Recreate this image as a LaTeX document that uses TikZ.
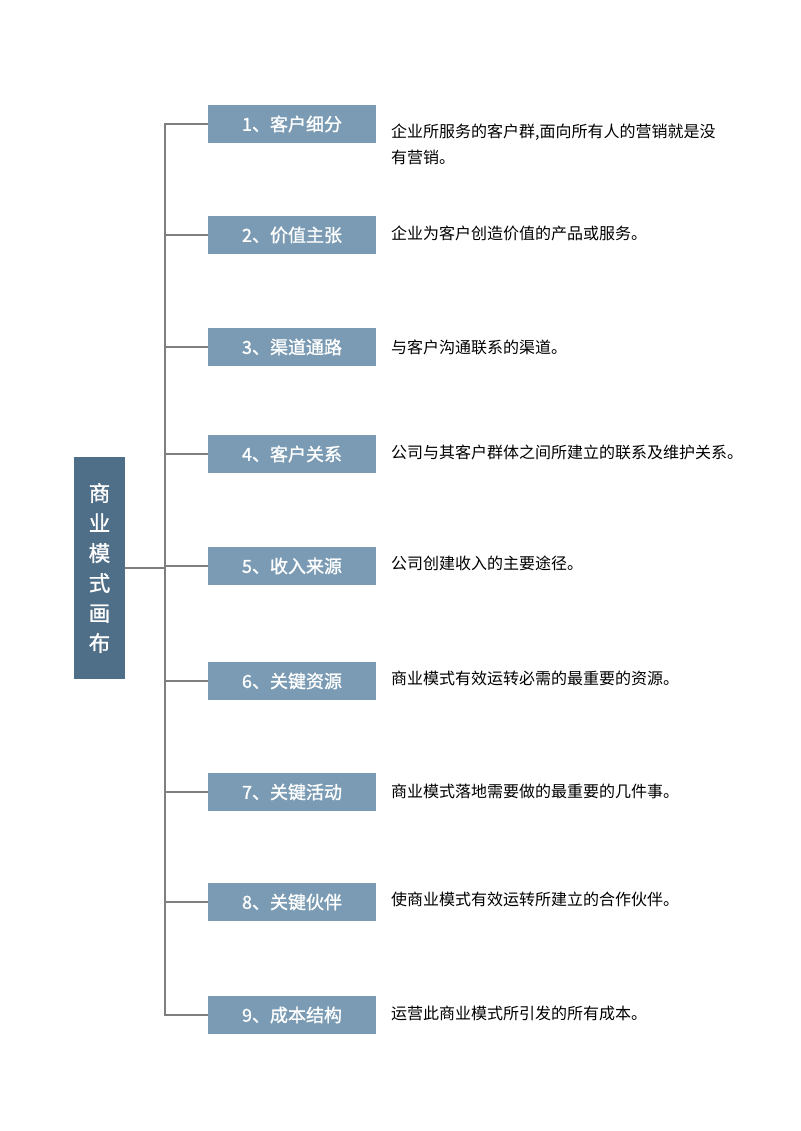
\documentclass[tikz,border=0pt]{standalone}
\usepackage{fontspec}
\setmainfont{Noto Sans CJK SC}
\newfontfamily\medfont{Noto Sans CJK SC}[FakeBold=1.2]
\begin{document}
\begin{tikzpicture}[x=1pt,y=-1pt,
  rootbox/.style={fill=rootc,text=white,minimum width=51pt,minimum height=222pt,inner sep=0pt,align=center,font=\medfont\fontsize{21.5}{30}\selectfont},
  itembox/.style={fill=itemc,text=white,minimum width=168pt,minimum height=38pt,inner sep=0pt,font=\medfont\fontsize{18}{20}\selectfont},
  desc/.style={anchor=west,inner sep=0pt,align=left,text=black,font=\fontsize{16}{26}\selectfont},
  conn/.style={draw=linec,line width=2pt}]
\definecolor{rootc}{HTML}{4F6E87}
\definecolor{itemc}{HTML}{7A9BB3}
\definecolor{linec}{HTML}{7F7F7F}
\useasboundingbox (0,0) rectangle (800,1131);
\fill[white] (0,0) rectangle (800,1131);
\node[rootbox] (root) at (99.5,568) {商\\业\\模\\式\\画\\布};
\coordinate (spine) at (165,568);
\node[itembox] (b1) at (292,124) {1、客户细分};
\node[itembox] (b2) at (292,235) {2、价值主张};
\node[itembox] (b3) at (292,347) {3、渠道通路};
\node[itembox] (b4) at (292,454) {4、客户关系};
\node[itembox] (b5) at (292,566) {5、收入来源};
\node[itembox] (b6) at (292,681) {6、关键资源};
\node[itembox] (b7) at (292,792) {7、关键活动};
\node[itembox] (b8) at (292,902) {8、关键伙伴};
\node[itembox] (b9) at (292,1015) {9、成本结构};
\node[desc] (d1) at (391,144) {企业所服务的客户群,面向所有人的营销就是没\\有营销。};
\node[desc] (d2) at (391,233) {企业为客户创造价值的产品或服务。};
\node[desc] (d3) at (391,347) {与客户沟通联系的渠道。};
\node[desc] (d4) at (391,452) {公司与其客户群体之间所建立的联系及维护关系。};
\node[desc] (d5) at (391,563) {公司创建收入的主要途径。};
\node[desc] (d6) at (391,678) {商业模式有效运转必需的最重要的资源。};
\node[desc] (d7) at (391,791) {商业模式落地需要做的最重要的几件事。};
\node[desc] (d8) at (391,899) {使商业模式有效运转所建立的合作伙伴。};
\node[desc] (d9) at (391,1013) {运营此商业模式所引发的所有成本。};
\draw[conn] (b1.west) -- (spine |- b1.west) -- (spine |- b9.west) -- (b9.west);
\draw[conn] (root.east) -- (spine);
\foreach \i in {2,...,8}{\draw[conn] (spine |- b\i.west) -- (b\i.west);}
\end{tikzpicture}
\end{document}
